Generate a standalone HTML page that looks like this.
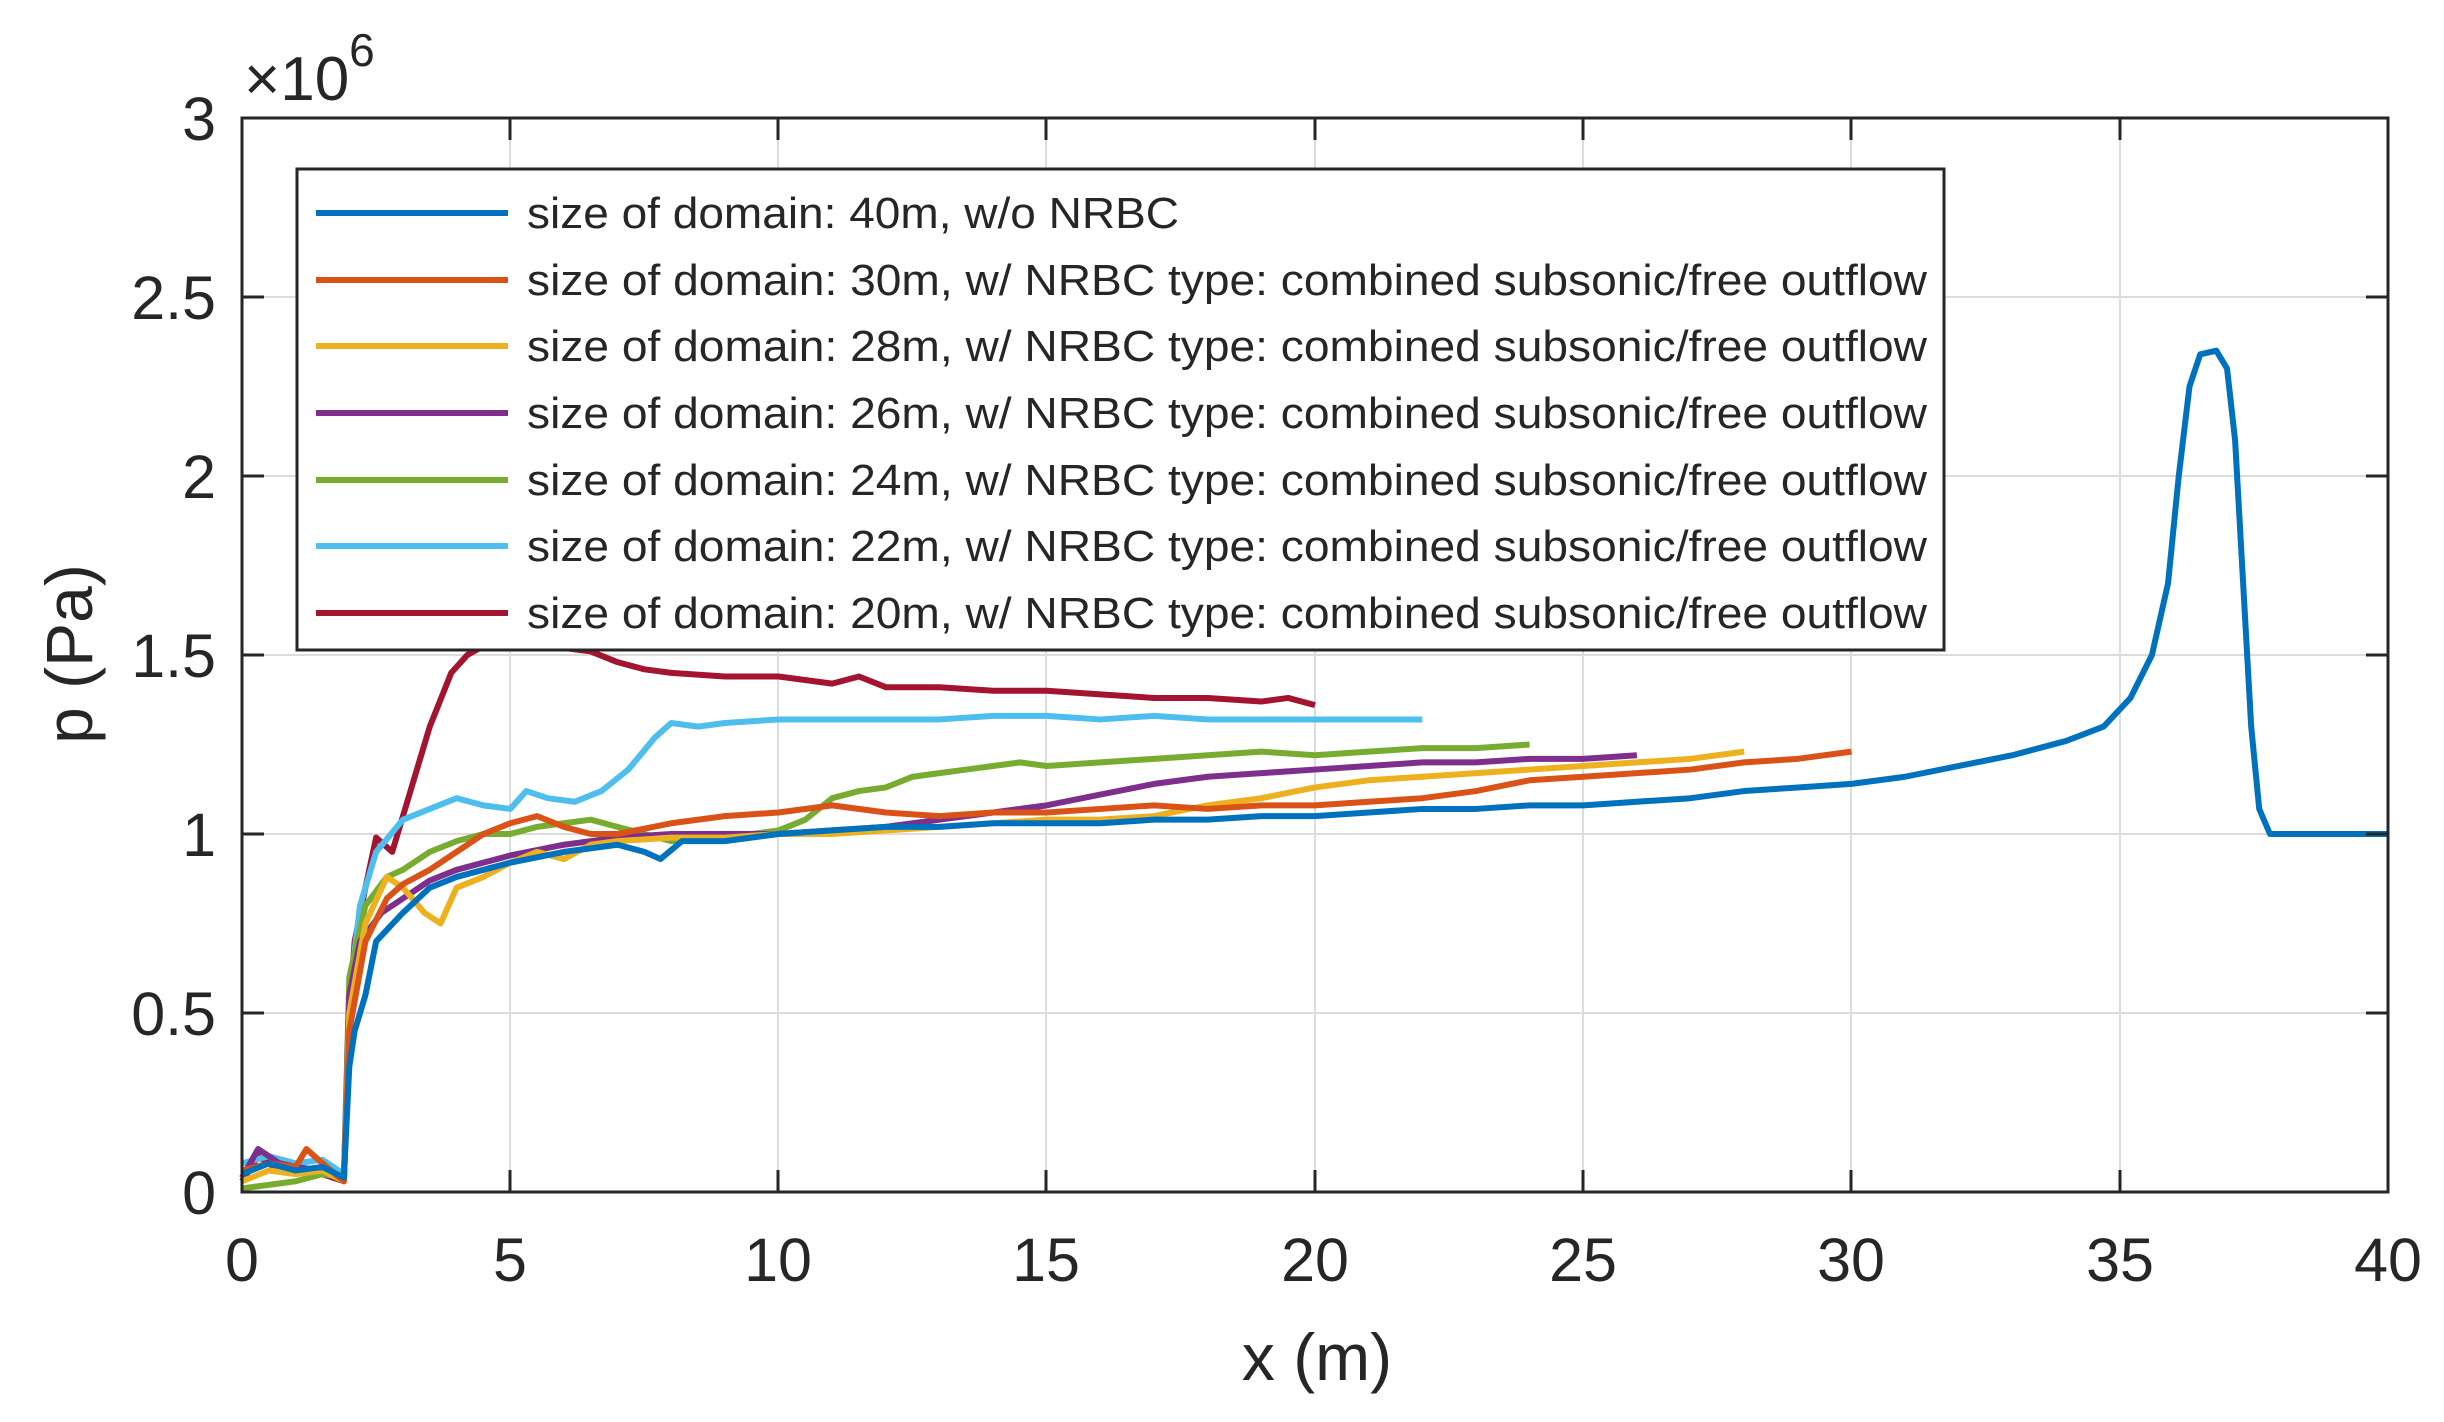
<!DOCTYPE html>
<html><head><meta charset="utf-8"><style>
html,body{margin:0;padding:0;background:#fff}
svg{display:block}
text{font-family:"Liberation Sans",Arial,sans-serif;fill:#262626}
</style></head><body>
<svg width="2444" height="1422" viewBox="0 0 2444 1422" xmlns="http://www.w3.org/2000/svg">
<rect width="2444" height="1422" fill="#fff"/>
<g stroke="#dcdcdc" stroke-width="2">
<line x1="510" y1="118" x2="510" y2="1192"/><line x1="778" y1="118" x2="778" y2="1192"/>
<line x1="1046" y1="118" x2="1046" y2="1192"/><line x1="1315" y1="118" x2="1315" y2="1192"/>
<line x1="1583" y1="118" x2="1583" y2="1192"/><line x1="1851" y1="118" x2="1851" y2="1192"/>
<line x1="2120" y1="118" x2="2120" y2="1192"/>
<line x1="242" y1="297" x2="2388" y2="297"/><line x1="242" y1="476" x2="2388" y2="476"/>
<line x1="242" y1="655" x2="2388" y2="655"/><line x1="242" y1="834" x2="2388" y2="834"/>
<line x1="242" y1="1013" x2="2388" y2="1013"/>
</g>
<g transform="translate(242,1192) scale(53.65,-358)" fill="none" stroke-width="6" stroke-linejoin="round">
<polyline vector-effect="non-scaling-stroke" stroke="#A2142F" points="0,0.03 0.3,0.1 0.6,0.07 1,0.06 1.5,0.05 1.9,0.03 2.0,0.5 2.1,0.7 2.3,0.85 2.5,0.99 2.8,0.95 3.1,1.1 3.5,1.3 3.9,1.45 4.2,1.5 4.8,1.55 5.5,1.53 6,1.52 6.5,1.51 7,1.48 7.5,1.46 8,1.45 9,1.44 10,1.44 11,1.42 11.5,1.44 12,1.41 13,1.41 14,1.4 15,1.4 16,1.39 17,1.38 18,1.38 19,1.37 19.5,1.38 20,1.36"/>
<polyline vector-effect="non-scaling-stroke" stroke="#4DBEEE" points="0,0.08 0.5,0.1 1,0.08 1.5,0.09 1.9,0.05 2.0,0.55 2.2,0.8 2.5,0.95 3,1.04 3.5,1.07 4,1.1 4.5,1.08 5,1.07 5.3,1.12 5.7,1.1 6.2,1.09 6.7,1.12 7.2,1.18 7.7,1.27 8,1.31 8.5,1.3 9,1.31 10,1.32 11,1.32 12,1.32 13,1.32 14,1.33 15,1.33 16,1.32 17,1.33 18,1.32 19,1.32 20,1.32 21,1.32 22,1.32"/>
<polyline vector-effect="non-scaling-stroke" stroke="#77AC30" points="0,0.01 0.5,0.02 1,0.03 1.5,0.05 1.9,0.04 2.0,0.6 2.3,0.8 2.7,0.88 3,0.9 3.5,0.95 4,0.98 4.5,1.0 5,1.0 5.5,1.02 6,1.03 6.5,1.04 7,1.02 7.5,1.0 8,0.98 9,0.99 10,1.01 10.5,1.04 11,1.1 11.5,1.12 12,1.13 12.5,1.16 13,1.17 13.5,1.18 14,1.19 14.5,1.2 15,1.19 16,1.2 17,1.21 18,1.22 19,1.23 20,1.22 21,1.23 22,1.24 23,1.24 24,1.25"/>
<polyline vector-effect="non-scaling-stroke" stroke="#7E2F8E" points="0,0.04 0.3,0.12 0.7,0.08 1,0.07 1.5,0.06 1.9,0.04 2.0,0.55 2.2,0.7 2.6,0.78 3,0.82 3.5,0.87 4,0.9 5,0.94 6,0.97 7,0.99 8,1.0 9,1.0 10,1.0 11,1.01 12,1.02 13,1.04 14,1.06 15,1.08 16,1.11 17,1.14 18,1.16 19,1.17 20,1.18 21,1.19 22,1.2 23,1.2 24,1.21 25,1.21 26,1.22"/>
<polyline vector-effect="non-scaling-stroke" stroke="#EDB120" points="0,0.03 0.5,0.06 1,0.05 1.5,0.06 1.9,0.03 2.0,0.5 2.3,0.75 2.7,0.88 3,0.85 3.4,0.78 3.7,0.75 4,0.85 4.5,0.88 5,0.92 5.5,0.95 6,0.93 6.5,0.97 7,0.98 8,0.99 9,0.99 10,1.0 11,1.0 12,1.01 13,1.02 14,1.03 15,1.04 16,1.04 17,1.05 18,1.08 19,1.1 20,1.13 21,1.15 22,1.16 23,1.17 24,1.18 25,1.19 26,1.2 27,1.21 28,1.23"/>
<polyline vector-effect="non-scaling-stroke" stroke="#D95319" points="0,0.06 0.5,0.08 1,0.07 1.2,0.12 1.5,0.08 1.9,0.03 2.0,0.45 2.3,0.7 2.7,0.82 3,0.86 3.5,0.9 4,0.95 4.5,1.0 5,1.03 5.5,1.05 6,1.02 6.5,1.0 7,1.0 8,1.03 9,1.05 10,1.06 11,1.08 12,1.06 13,1.05 14,1.06 15,1.06 16,1.07 17,1.08 18,1.07 19,1.08 20,1.08 21,1.09 22,1.1 23,1.12 24,1.15 25,1.16 26,1.17 27,1.18 28,1.2 29,1.21 30,1.23"/>
<polyline vector-effect="non-scaling-stroke" stroke="#0072BD" points="0,0.05 0.5,0.08 1,0.06 1.5,0.07 1.9,0.04 2.0,0.35 2.1,0.45 2.3,0.55 2.5,0.7 3,0.78 3.5,0.85 4,0.88 5,0.92 6,0.95 7,0.97 7.5,0.95 7.8,0.93 8.2,0.98 9,0.98 10,1.0 11,1.01 12,1.02 13,1.02 14,1.03 15,1.03 16,1.03 17,1.04 18,1.04 19,1.05 20,1.05 21,1.06 22,1.07 23,1.07 24,1.08 25,1.08 26,1.09 27,1.1 28,1.12 29,1.13 30,1.14 31,1.16 32,1.19 33,1.22 34,1.26 34.7,1.3 35.2,1.38 35.6,1.5 35.9,1.7 36.1,2.0 36.3,2.25 36.5,2.34 36.8,2.35 37.0,2.3 37.15,2.1 37.3,1.7 37.45,1.3 37.6,1.07 37.8,1.0 40,1.0"/>
</g>
<g stroke="#262626" stroke-width="3" fill="none">
<rect x="242" y="118" width="2146" height="1074"/>
<path d="M510 1192v-22M778 1192v-22M1046 1192v-22M1315 1192v-22M1583 1192v-22M1851 1192v-22M2120 1192v-22M510 118v22M778 118v22M1046 118v22M1315 118v22M1583 118v22M1851 118v22M2120 118v22"/>
<path d="M242 297h22M242 476h22M242 655h22M242 834h22M242 1013h22M2388 297h-22M2388 476h-22M2388 655h-22M2388 834h-22M2388 1013h-22"/>
</g>
<rect x="297" y="169" width="1647" height="481" fill="#fff" stroke="#262626" stroke-width="3"/>
<g stroke-width="6">
<line x1="316" y1="213" x2="508" y2="213" stroke="#0072BD"/>
<line x1="316" y1="280" x2="508" y2="280" stroke="#D95319"/>
<line x1="316" y1="346" x2="508" y2="346" stroke="#EDB120"/>
<line x1="316" y1="413" x2="508" y2="413" stroke="#7E2F8E"/>
<line x1="316" y1="480" x2="508" y2="480" stroke="#77AC30"/>
<line x1="316" y1="546" x2="508" y2="546" stroke="#4DBEEE"/>
<line x1="316" y1="613" x2="508" y2="613" stroke="#A2142F"/>
</g>
<g font-size="44">
<text x="527" y="228" textLength="652" lengthAdjust="spacingAndGlyphs">size of domain: 40m, w/o NRBC</text>
<text x="527" y="295" textLength="1400" lengthAdjust="spacingAndGlyphs">size of domain: 30m, w/ NRBC type: combined subsonic/free outflow</text>
<text x="527" y="361" textLength="1400" lengthAdjust="spacingAndGlyphs">size of domain: 28m, w/ NRBC type: combined subsonic/free outflow</text>
<text x="527" y="428" textLength="1400" lengthAdjust="spacingAndGlyphs">size of domain: 26m, w/ NRBC type: combined subsonic/free outflow</text>
<text x="527" y="495" textLength="1400" lengthAdjust="spacingAndGlyphs">size of domain: 24m, w/ NRBC type: combined subsonic/free outflow</text>
<text x="527" y="561" textLength="1400" lengthAdjust="spacingAndGlyphs">size of domain: 22m, w/ NRBC type: combined subsonic/free outflow</text>
<text x="527" y="628" textLength="1400" lengthAdjust="spacingAndGlyphs">size of domain: 20m, w/ NRBC type: combined subsonic/free outflow</text>
</g>
<g font-size="61" text-anchor="middle">
<text x="242" y="1281">0</text><text x="510" y="1281">5</text><text x="778" y="1281">10</text>
<text x="1046" y="1281">15</text><text x="1315" y="1281">20</text><text x="1583" y="1281">25</text>
<text x="1851" y="1281">30</text><text x="2120" y="1281">35</text><text x="2388" y="1281">40</text>
</g>
<g font-size="61" text-anchor="end">
<text x="216" y="1214">0</text><text x="216" y="1035">0.5</text><text x="216" y="856">1</text>
<text x="216" y="677">1.5</text><text x="216" y="498">2</text><text x="216" y="319">2.5</text>
<text x="216" y="140">3</text>
</g>
<text x="244" y="100" font-size="62">×10<tspan font-size="46" dy="-34">6</tspan></text>
<text x="1317" y="1380" font-size="66" text-anchor="middle">x (m)</text>
<text transform="translate(92,654) rotate(-90)" font-size="66" text-anchor="middle">p (Pa)</text>
</svg>
</body></html>
